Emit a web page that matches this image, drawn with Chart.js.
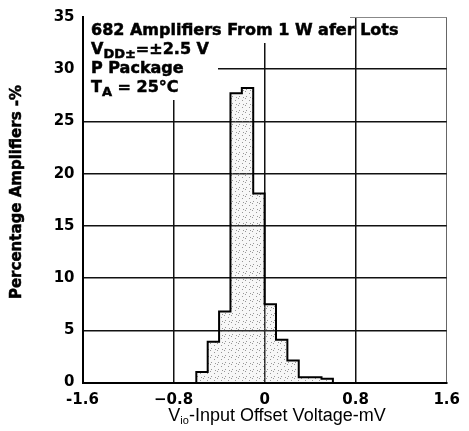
<!DOCTYPE html>
<html>
<head>
<meta charset="utf-8">
<script src="https://cdn.jsdelivr.net/npm/chart.js@4/dist/chart.umd.min.js"></script>
<style>
  html, body { margin: 0; padding: 0; background: #fff; }
  #wrap { width: 469px; height: 431px; }
</style>
</head>
<body>
<div id="wrap"><canvas id="c" width="469" height="431"></canvas></div>
<script>
// Histogram of input offset voltage (bin edges in mV, share of amplifiers in %)
const binEdges = [-0.6, -0.5, -0.4, -0.3, -0.2, -0.1, 0.0, 0.1, 0.2, 0.3, 0.4, 0.5, 0.6];
const percentages = [1.0, 3.9, 6.8, 27.7, 28.2, 18.1, 7.5, 4.1, 2.1, 0.5, 0.5, 0.35];
const xTickLabels = ['-1.6', '\u22120.8', '0', '0.8', '1.6'];
const yTickLabels = ['0', '5', '10', '15', '20', '25', '30', '35'];

// Conditions note: each line is a list of [text, isSubscript]
const noteLines = [
  [['682 Amplifiers From 1 W afer Lots', 0]],
  [['V', 0], ['DD\u00b1', 1], ['=\u00b12.5 V', 0]],
  [['P Package', 0]],
  [['T', 0], ['A', 1], [' = 25\u00b0C', 0]]
];

const canvas = document.getElementById('c');
const ctx2d = canvas.getContext('2d');

// sparse stippled fill for the histogram body
function stipple(ctx) {
  const c = document.createElement('canvas');
  c.width = 7; c.height = 7;
  const g = c.getContext('2d');
  g.fillStyle = 'rgba(200,200,200,0.15)';
  g.fillRect(0, 0, 7, 7);
  g.fillStyle = 'rgba(110,110,110,0.7)';
  [[0, 0], [4, 2], [1, 5], [5, 6]].forEach(([x, y]) => g.fillRect(x, y, 1, 1));
  return ctx.createPattern(c, 'repeat');
}

// step outline points: rise at the first edge, drop at the last
const points = [{ x: binEdges[0], y: 0 }];
percentages.forEach((p, i) => points.push({ x: binEdges[i], y: p }));
points.push({ x: binEdges[binEdges.length - 1], y: 0 });

const BOLD = 'DejaVu Sans';

const notePlugin = {
  id: 'notes',
  beforeDatasetsDraw(chart) {
    const ctx = chart.ctx;
    ctx.save();
    ctx.fillStyle = '#fff';
    ctx.fillRect(84, 16, 134, 84);
    ctx.fillRect(218, 16, 132, 27);
    ctx.restore();
  },
  afterDraw(chart) {
    const ctx = chart.ctx;
    ctx.save();
    ctx.fillStyle = '#000';
    ctx.strokeStyle = '#000';
    ctx.lineWidth = 0.5;
    ctx.textBaseline = 'alphabetic';
    ctx.textAlign = 'left';
    const x0 = 91, base0 = 34.5, step = 19;
    noteLines.forEach((segs, li) => {
      let x = x0;
      const by = base0 + li * step;
      segs.forEach(([t, sub]) => {
        ctx.font = 'bold ' + (sub ? 13 : 16) + 'px "' + BOLD + '"';
        ctx.fillText(t, x, by + (sub ? 4 : 0));
        ctx.strokeText(t, x, by + (sub ? 4 : 0));
        x += ctx.measureText(t).width;
      });
    });

    // x axis title with subscript
    ctx.font = '18px "Liberation Sans"';
    const mainA = 'V', subT = 'io', mainB = '-Input Offset Voltage-mV';
    const wA = ctx.measureText(mainA).width;
    const wB = ctx.measureText(mainB).width;
    ctx.font = '11px "Liberation Sans"';
    const wS = ctx.measureText(subT).width;
    let tx = 277 - (wA + wS + wB) / 2;
    const ty = 421;
    ctx.font = '18px "Liberation Sans"';
    ctx.fillText(mainA, tx, ty); tx += wA;
    ctx.font = '11px "Liberation Sans"';
    ctx.fillText(subT, tx, ty + 3); tx += wS;
    ctx.font = '18px "Liberation Sans"';
    ctx.fillText(mainB, tx, ty);

    // y axis title
    ctx.translate(17, 192);
    ctx.rotate(-Math.PI / 2);
    ctx.textAlign = 'center';
    ctx.textBaseline = 'middle';
    ctx.font = 'bold 15px "' + BOLD + '"';
    ctx.fillText('Percentage Amplifiers -%', 0, 0);
    ctx.strokeText('Percentage Amplifiers -%', 0, 0);
    ctx.restore();
  }
};

new Chart(ctx2d, {
  type: 'line',
  data: {
    datasets: [{
      data: points,
      stepped: true,
      borderColor: '#000',
      borderWidth: 2,
      backgroundColor: stipple(ctx2d),
      fill: 'origin',
      pointRadius: 0,
      tension: 0
    }]
  },
  options: {
    responsive: false,
    devicePixelRatio: 1,
    animation: false,
    layout: { padding: { left: 0, right: 18, top: 15, bottom: 0 } },
    plugins: { legend: { display: false }, tooltip: { enabled: false } },
    scales: {
      x: {
        type: 'linear',
        min: -1.6, max: 1.6,
        afterFit(s) { s.height = 48.5; },
        ticks: {
          stepSize: 0.8,
          padding: 9,
          color: '#000',
          font: { family: BOLD, weight: 'bold', size: 15 },
          maxRotation: 0,
          callback: (v, i) => xTickLabels[i]
        },
        grid: {
          drawTicks: false,
          color: (c) => (c.tick && c.tick.value >= 1.59) ? '#666' : '#111',
          lineWidth: (c) => (c.tick && c.tick.value >= 1.59) ? 1 : 1.5
        },
        border: { display: true, color: '#000', width: 2 }
      },
      y: {
        min: 0, max: 35,
        afterFit(s) { s.width = 82.5; },
        ticks: {
          stepSize: 5,
          padding: 8,
          color: '#000',
          font: { family: BOLD, weight: 'bold', size: 15 },
          callback: (v, i) => yTickLabels[i]
        },
        grid: {
          drawTicks: false,
          color: (c) => (c.tick && c.tick.value >= 35) ? '#888' : '#111',
          lineWidth: (c) => (c.tick && c.tick.value >= 35) ? 1 : 1.5
        },
        border: { display: true, color: '#000', width: 2 }
      }
    }
  },
  plugins: [notePlugin]
});
</script>
</body>
</html>
